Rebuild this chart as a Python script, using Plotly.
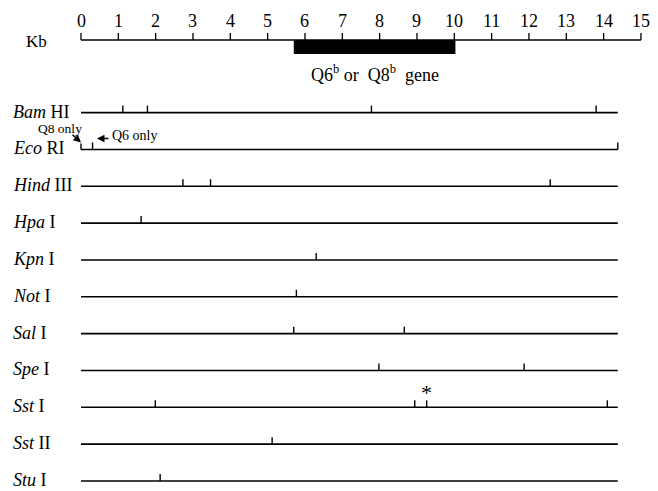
import plotly.graph_objects as go

# ---- data ----
enzymes_italic = ["Bam", "Eco", "Hind", "Hpa", "Kpn", "Not", "Sal", "Spe", "Sst", "Sst", "Stu"]
enzymes_roman = ["HI", "RI", "III", "I", "I", "I", "I", "I", "I", "II", "I"]
sites = [
    [1.12, 1.78, 7.78, 13.8],
    [0.0, 0.31, 14.38],
    [2.73, 3.47, 12.57],
    [1.61],
    [6.3],
    [5.77],
    [5.7, 8.66],
    [7.98, 11.87],
    [1.99, 8.94, 9.26, 14.1],
    [5.12],
    [2.12],
]
map_length = 14.38
scale_ticks = list(range(0, 16))
gene_start, gene_end = 5.7, 10.03
star_site = 9.26

# ---- layout constants (pixels) ----
W, H = 658, 491
x0px, pxkb = 81, 37.33
row_y0, row_step = 112.6, 36.84
tick_h = 7
scale_y = 40

serif = "Liberation Serif, Times New Roman, serif"
fig = go.Figure()


def px(xp):
    return (xp - x0px) / pxkb


# scale bar
fig.add_trace(go.Scatter(x=[0, 15], y=[scale_y, scale_y], mode="lines",
                         line=dict(color="black", width=1.5), hoverinfo="skip"))
sx, sy = [], []
for t in scale_ticks:
    sx += [t, t, None]
    sy += [scale_y, scale_y - 7, None]
fig.add_trace(go.Scatter(x=sx, y=sy, mode="lines", line=dict(color="black", width=1.3), hoverinfo="skip"))
fig.add_shape(type="rect", x0=gene_start, x1=gene_end, y0=scale_y, y1=scale_y + 14,
              fillcolor="black", line=dict(width=0))
for t in scale_ticks:
    fig.add_annotation(x=t, y=21, text=str(t), showarrow=False,
                       font=dict(family=serif, size=18, color="black"))
fig.add_annotation(x=px(49), y=41, text="Kb", showarrow=False,
                   xanchor="right", font=dict(family=serif, size=17, color="black"))
fig.add_annotation(x=(gene_start + gene_end) / 2, y=73,
                   text="Q6<sup>b</sup> or  Q8<sup>b</sup>  gene", showarrow=False,
                   font=dict(family=serif, size=18, color="black"))

# rows
for i, (it, ro, s) in enumerate(zip(enzymes_italic, enzymes_roman, sites)):
    y = row_y0 + i * row_step
    fig.add_trace(go.Scatter(x=[0, map_length], y=[y, y], mode="lines",
                             line=dict(color="black", width=1.6), hoverinfo="skip"))
    tx, ty = [], []
    for v in s:
        h = 6 if (i == 1 and v == 0.0) else tick_h
        tx += [v, v, None]
        ty += [y, y - h, None]
    fig.add_trace(go.Scatter(x=tx, y=ty, mode="lines", line=dict(color="black", width=1.4),
                             hoverinfo="skip"))
    fig.add_annotation(x=px(11), y=y - 1, xanchor="left", showarrow=False,
                       text=f"<i>{it}</i> {ro}",
                       font=dict(family=serif, size=18, color="black"))

# star
fig.add_annotation(x=star_site, y=row_y0 + 8 * row_step - 15, text="*", showarrow=False,
                   font=dict(family=serif, size=22, color="black"))

# Eco RI notes
eco_y = row_y0 + row_step
fig.add_annotation(x=0, y=eco_y - 7, ax=-10, ay=-9, text="", showarrow=True,
                   arrowhead=2, arrowsize=1, arrowwidth=1.5, arrowcolor="black")
fig.add_annotation(x=px(60), y=eco_y - 21, text="Q8 only", showarrow=False,
                   font=dict(family=serif, size=13.5, color="black"))
fig.add_annotation(x=px(97), y=eco_y - 11, ax=13, ay=0, text="", showarrow=True,
                   arrowhead=2, arrowsize=1, arrowwidth=1.5, arrowcolor="black")
fig.add_annotation(x=px(110), y=eco_y - 14, xanchor="left", text="Q6 only",
                   showarrow=False, font=dict(family=serif, size=14, color="black"))

fig.update_layout(
    width=W, height=H, margin=dict(l=0, r=0, t=0, b=0),
    plot_bgcolor="white", paper_bgcolor="white", showlegend=False,
    xaxis=dict(range=[px(0), px(W)], visible=False, fixedrange=True),
    yaxis=dict(range=[H, 0], visible=False, fixedrange=True),
)
fig.write_html("out.html", config={"displayModeBar": False},
               post_script="document.body.style.margin='0';document.body.style.overflow='hidden';")
